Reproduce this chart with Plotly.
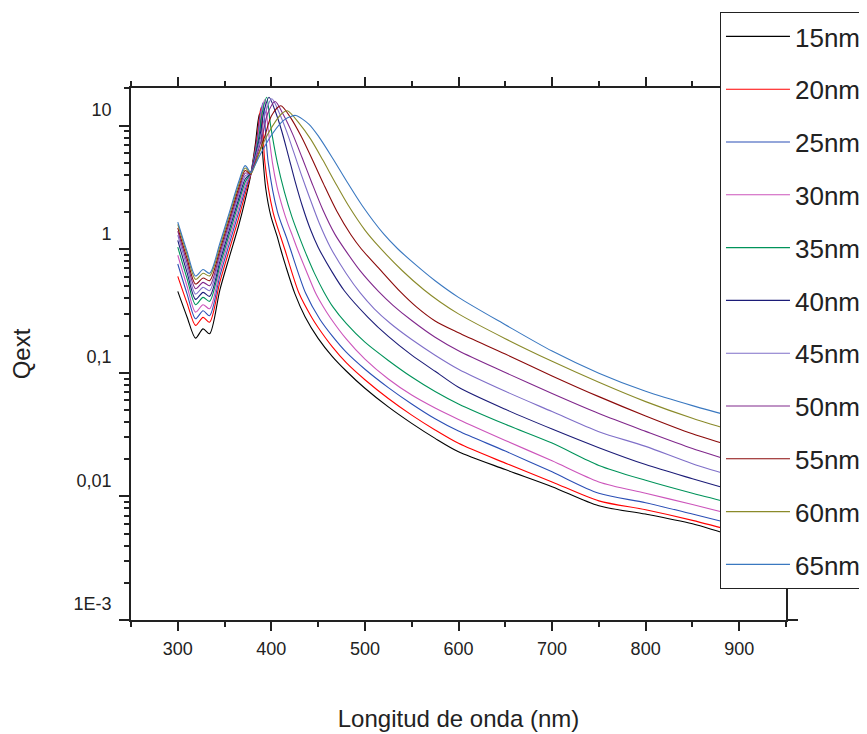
import plotly.graph_objects as go

# ---------------- data ----------------
SIZES = ["15nm", "20nm", "25nm", "30nm", "35nm", "40nm", "45nm", "50nm", "55nm", "60nm", "65nm"]
COLORS = ["#000000", "#FF0000", "#2B4FB5", "#CC55BB", "#00935A", "#1C1C78",
          "#7F6FC8", "#80288C", "#8B0A0A", "#8A8A2A", "#3A78C0"]

WL_LEFT = [300, 310, 319, 327, 334, 345, 355, 365, 372, 378]
WL_TAIL = [600, 650, 700, 750, 800, 850, 900]

Q_LEFT_15 = [0.456, 0.282, 0.191, 0.227, 0.207, 0.47, 0.86, 1.55, 2.5, 4.0]
Q_LEFT_20 = [0.604, 0.365, 0.242, 0.281, 0.257, 0.545, 0.989, 1.78, 2.79, 4.05]
Q_LEFT_25 = [0.760, 0.434, 0.274, 0.318, 0.290, 0.610, 1.10, 1.98, 3.03, 4.1]
Q_LEFT_30 = [0.894, 0.500, 0.310, 0.356, 0.330, 0.671, 1.21, 2.16, 3.25, 4.12]
Q_LEFT_35 = [1.04, 0.576, 0.356, 0.408, 0.379, 0.738, 1.32, 2.37, 3.49, 4.15]
Q_LEFT_40 = [1.18, 0.644, 0.393, 0.448, 0.416, 0.798, 1.43, 2.55, 3.70, 4.15]
Q_LEFT_45 = [1.30, 0.711, 0.434, 0.492, 0.462, 0.863, 1.53, 2.74, 3.92, 4.15]
Q_LEFT_50 = [1.40, 0.776, 0.480, 0.540, 0.507, 0.925, 1.64, 2.92, 4.13, 4.1]
Q_LEFT_55 = [1.49, 0.838, 0.523, 0.585, 0.557, 0.991, 1.75, 3.12, 4.34, 4.05]
Q_LEFT_60 = [1.59, 0.903, 0.571, 0.639, 0.608, 1.05, 1.86, 3.30, 4.54, 4.1]
Q_LEFT_65 = [1.66, 0.955, 0.608, 0.685, 0.639, 1.12, 1.97, 3.5, 4.75, 4.16]

WL_MID_15 = [380, 383, 385.5, 387.3, 389, 391, 394, 399.4, 406.5, 410, 415.4, 425, 436, 450, 465, 480, 500, 525, 550, 575]
Q_MID_15 = [5.0, 7.2, 10.5, 12.5, 10.0, 5.5, 3.1, 1.86, 1.25, 1.0, 0.73, 0.44, 0.285, 0.19, 0.136, 0.1035, 0.075, 0.053, 0.039, 0.0295]

WL_MID_20 = [380, 384.6, 387, 389, 390.7, 393.1, 401.8, 410.1, 414.3, 429.6, 443, 450, 465, 480, 500, 525, 550, 575]
Q_MID_20 = [4.9, 8.0, 11.5, 14.0, 10.0, 5.0, 2.0, 1.25, 1.0, 0.44, 0.282, 0.233, 0.163, 0.121, 0.088, 0.062, 0.0455, 0.0345]

WL_MID_25 = [380, 385.2, 388, 391, 393.3, 396.7, 406.6, 416.1, 420.4, 436.7, 452, 465, 480, 500, 525, 550, 575]
Q_MID_25 = [4.85, 8.0, 12.0, 15.3, 10.0, 5.0, 2.0, 1.25, 1.0, 0.44, 0.27, 0.199, 0.147, 0.107, 0.076, 0.056, 0.0425]

WL_MID_30 = [380, 385.8, 389, 393, 396.2, 401.2, 406, 412.5, 417.5, 422.5, 427.9, 437, 447.4, 455, 463, 480, 500, 525, 550, 575]
Q_MID_30 = [4.8, 8.0, 12.5, 16.3, 10.0, 5.0, 3.21, 2.11, 1.62, 1.29, 1.0, 0.676, 0.44, 0.347, 0.279, 0.188, 0.129, 0.0891, 0.0661, 0.0519]

WL_MID_35 = [380, 386.5, 390.5, 395, 399.2, 406.4, 414, 422, 431.4, 436.4, 446, 456, 466, 480, 500, 525, 550, 575]
Q_MID_35 = [4.75, 8.0, 13.0, 17.0, 10.0, 5.0, 2.90, 1.83, 1.175, 0.944, 0.641, 0.454, 0.340, 0.251, 0.177, 0.126, 0.0925, 0.0706]

WL_MID_40 = [380, 387.5, 392, 397.5, 404, 411, 418, 425, 433, 442, 450, 465, 478, 503, 525, 550, 575]
Q_MID_40 = [4.7, 8.0, 13.0, 17.0, 13.2, 9.10, 5.79, 3.63, 2.25, 1.43, 1.04, 0.653, 0.462, 0.283, 0.197, 0.139, 0.103]

WL_MID_45 = [380, 388.5, 394, 400.5, 408, 416, 424, 432, 441, 451, 463, 480, 495, 510, 527, 550, 575]
Q_MID_45 = [4.6, 8.0, 13.0, 16.5, 12.9, 9.12, 6.08, 4.02, 2.60, 1.64, 1.04, 0.637, 0.443, 0.330, 0.252, 0.186, 0.139]

WL_MID_50 = [380, 390, 396, 404, 413, 423, 433, 443, 455, 468, 479, 495, 515, 530, 550, 575]
Q_MID_50 = [4.5, 8.0, 12.5, 15.7, 12.2, 8.47, 5.47, 3.49, 2.09, 1.32, 0.984, 0.668, 0.452, 0.352, 0.265, 0.194]

WL_MID_55 = [380, 392.5, 400, 410, 420, 432, 444, 456, 470, 485, 496, 515, 538, 555, 575]
Q_MID_55 = [4.4, 8.0, 12.0, 14.5, 11.8, 8.18, 5.28, 3.35, 2.03, 1.31, 1.01, 0.70, 0.452, 0.342, 0.263]

WL_MID_60 = [380, 388, 396, 405, 411, 417, 430, 442, 455, 468, 482, 500, 515, 540, 563, 580]
Q_MID_60 = [4.3, 6.3, 8.5, 11.0, 12.5, 13.2, 10.4, 7.78, 5.27, 3.49, 2.28, 1.43, 1.05, 0.67, 0.47, 0.376]

WL_MID_65 = [380, 389, 399.5, 410, 415, 420, 426, 440, 451, 466, 480, 497, 520, 535, 555, 575]
Q_MID_65 = [4.4, 6.0, 8.25, 10.5, 11.3, 11.8, 12.1, 10.3, 8.09, 5.38, 3.60, 2.26, 1.33, 1.01, 0.74, 0.556]

Q_TAIL_15 = [0.0230, 0.0165, 0.0120, 0.0084, 0.0072, 0.0060, 0.0046]
Q_TAIL_20 = [0.0269, 0.0186, 0.0131, 0.0092, 0.0078, 0.0064, 0.0051]
Q_TAIL_25 = [0.0338, 0.0233, 0.0158, 0.0106, 0.0089, 0.0072, 0.0058]
Q_TAIL_30 = [0.042, 0.0284, 0.0194, 0.0131, 0.0106, 0.0086, 0.0069]
Q_TAIL_35 = [0.056, 0.0383, 0.0270, 0.0178, 0.0135, 0.0106, 0.0085]
Q_TAIL_40 = [0.0764, 0.0507, 0.0351, 0.0248, 0.0181, 0.0139, 0.0108]
Q_TAIL_45 = [0.107, 0.0709, 0.0486, 0.0334, 0.0254, 0.0184, 0.0141]
Q_TAIL_50 = [0.151, 0.1006, 0.0679, 0.0468, 0.0336, 0.0244, 0.0185]
Q_TAIL_55 = [0.211, 0.142, 0.0945, 0.0642, 0.0448, 0.0321, 0.0245]
Q_TAIL_60 = [0.30, 0.189, 0.124, 0.0839, 0.0585, 0.0429, 0.0328]
Q_TAIL_65 = [0.408, 0.245, 0.150, 0.0994, 0.0709, 0.0543, 0.0428]

Y_TICK_VALS = [0.001, 0.01, 0.1, 1, 10]
Y_TICK_TEXT = ["1E-3", "0,01", "0,1", "1", "10"]

# ---------------- figure ----------------
LEFTS = [Q_LEFT_15, Q_LEFT_20, Q_LEFT_25, Q_LEFT_30, Q_LEFT_35, Q_LEFT_40,
         Q_LEFT_45, Q_LEFT_50, Q_LEFT_55, Q_LEFT_60, Q_LEFT_65]
MID_WL = [WL_MID_15, WL_MID_20, WL_MID_25, WL_MID_30, WL_MID_35, WL_MID_40,
          WL_MID_45, WL_MID_50, WL_MID_55, WL_MID_60, WL_MID_65]
MID_Q = [Q_MID_15, Q_MID_20, Q_MID_25, Q_MID_30, Q_MID_35, Q_MID_40,
         Q_MID_45, Q_MID_50, Q_MID_55, Q_MID_60, Q_MID_65]
TAILS = [Q_TAIL_15, Q_TAIL_20, Q_TAIL_25, Q_TAIL_30, Q_TAIL_35, Q_TAIL_40,
         Q_TAIL_45, Q_TAIL_50, Q_TAIL_55, Q_TAIL_60, Q_TAIL_65]

FONT = "Liberation Sans, Arial, sans-serif"
INK = "#222222"

fig = go.Figure()
for name, color, ql, wm, qm, qt in zip(SIZES, COLORS, LEFTS, MID_WL, MID_Q, TAILS):
    fig.add_trace(go.Scatter(
        x=WL_LEFT + wm + WL_TAIL,
        y=ql + qm + qt,
        mode="lines",
        name=name,
        legendgroup=name,
        line=dict(color=color, width=1.1, shape="spline", smoothing=0.8),
    ))

minor_y = [k * 10.0 ** e for e in range(-3, 2) for k in range(2, 10)]

fig.update_layout(
    width=867, height=734, autosize=False,
    margin=dict(l=123, r=89, t=80, b=122, autoexpand=False),
    paper_bgcolor="white", plot_bgcolor="white",
    font=dict(family=FONT, color=INK, size=18),
    showlegend=True,
    legend=dict(
        x=0.8992, y=1.1429, xanchor="left", yanchor="top",
        bgcolor="white", bordercolor=INK, borderwidth=1,
        font=dict(family=FONT, size=26, color=INK),
        tracegroupgap=16, itemwidth=64, traceorder="grouped",
        maxheight=700,
    ),
    xaxis=dict(
        range=[250, 950], tick0=300, dtick=100,
        ticks="outside", ticklen=9, tickwidth=1.6, tickcolor=INK,
        showline=True, linecolor=INK, linewidth=1.6, mirror="ticks",
        showgrid=False, zeroline=False,
        minor=dict(dtick=50, tick0=250, ticks="outside", ticklen=5,
                   tickwidth=1.6, tickcolor=INK, showgrid=False),
        ticklabelstandoff=3,
        tickfont=dict(family=FONT, size=18, color=INK),
        title=dict(text="Longitud de onda (nm)", standoff=52,
                   font=dict(family=FONT, size=24, color=INK)),
    ),
    yaxis=dict(
        type="log", range=[-3.0, 1.305],
        tickmode="array", tickvals=Y_TICK_VALS, ticktext=Y_TICK_TEXT,
        ticks="outside", ticklen=10, tickwidth=1.6, tickcolor=INK,
        showline=True, linecolor=INK, linewidth=1.6, mirror="ticks",
        showgrid=False, zeroline=False,
        minor=dict(tickmode="array", tickvals=minor_y, ticks="outside", ticklen=5,
                   tickwidth=1.6, tickcolor=INK, showgrid=False),
        ticklabelshift=-16, ticklabelstandoff=4,
        tickfont=dict(family=FONT, size=18, color=INK),
        title=dict(text="Qext", standoff=38,
                   font=dict(family=FONT, size=24, color=INK)),
    ),
)

fig.write_html("out.html")
